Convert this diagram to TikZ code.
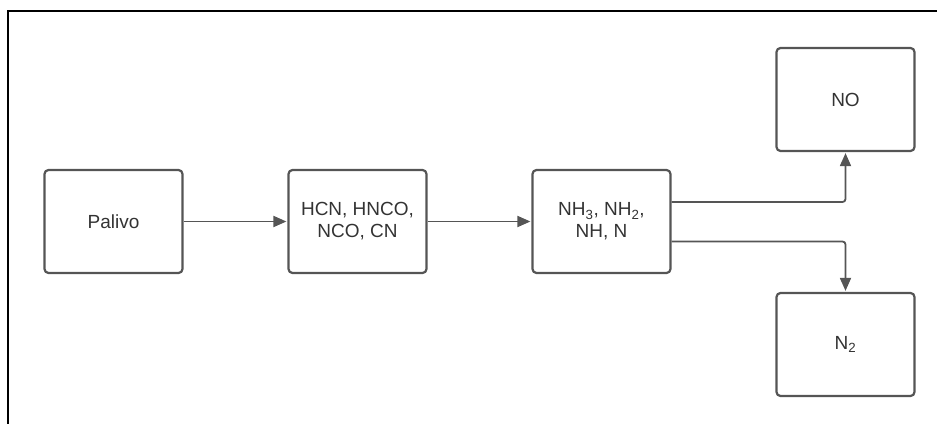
\documentclass[tikz,border=0pt]{standalone}
\usepackage{fontspec}
\setmainfont{Liberation Sans}
\usepackage{xcolor}
\usetikzlibrary{positioning, arrows.meta}

\definecolor{boxgray}{HTML}{555555}
\definecolor{txtgray}{HTML}{333333}

\begin{document}
\begin{tikzpicture}[x=1pt,y=-1pt,>={Triangle[length=13pt,width=11pt]},shorten >=1pt,node distance=244pt,
    box/.style={draw=boxgray,line width=2.2pt,rounded corners=4pt,minimum width=138pt,minimum height=103pt,
        align=center,text=txtgray,font=\fontsize{19}{22}\selectfont},
    flow/.style={->,draw=boxgray,line width=1.8pt,rounded corners=3pt}]
    \useasboundingbox (0,0) rectangle (937,425);
    \draw[line width=2.4pt] (937,11) -- (8,11) -- (8,425);

    \node[box] (palivo) at (113.5,221.5) {Palivo};
    \node[box] (hcn) [right of=palivo] {HCN, HNCO,\\NCO, CN};
    \node[box] (nh) [right of=hcn] {NH\textsubscript{3}, NH\textsubscript{2},\\NH, N};
    \node[box] (no) [on grid,above right=122pt and 244pt of nh] {NO};
    \node[box] (ntwo) [on grid,below right=123pt and 244pt of nh] {N\textsubscript{2}};

    \draw[flow] (palivo) -- (hcn);
    \draw[flow] (hcn) -- (nh);
    \draw[flow] ([yshift=19.5pt]nh.east) -| (no.south);
    \draw[flow] ([yshift=-20pt]nh.east) -| (ntwo.north);
\end{tikzpicture}
\end{document}
